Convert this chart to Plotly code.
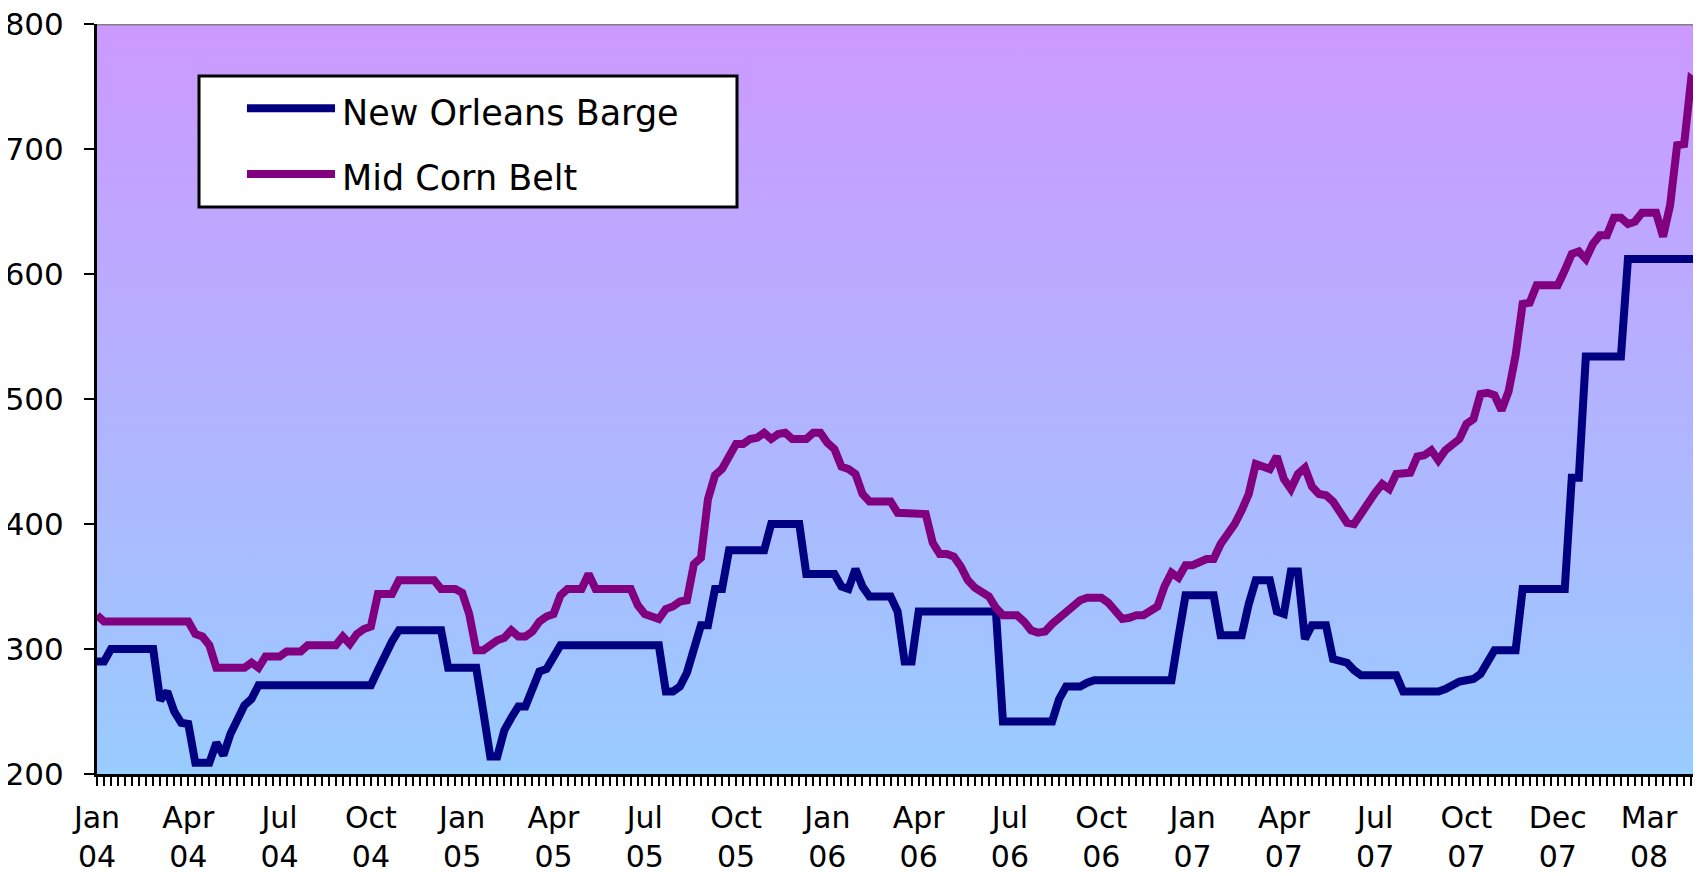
import plotly.graph_objects as go

# weekly prices, one value per week from the first week of Jan 2004
new_orleans_barge = [
    290, 290, 300, 300, 300, 300, 300, 300, 300,
    259, 266, 250, 241, 240, 209, 209, 209, 225, 215, 232, 242, 255, 260, 271,
    271, 271, 271, 271, 271, 271, 271, 271, 271, 271, 271, 271, 271, 271, 271, 271,
    283, 295, 306, 315,
    315, 315, 315, 315, 315, 315,
    285, 285, 285, 285, 285,
    250, 214, 214, 235, 245, 254, 254, 270, 282, 284, 295,
    303, 303, 303, 303, 303, 303, 303, 303, 303, 303, 303, 303, 303, 303, 303,
    266, 266, 270, 281, 300, 319, 319, 348, 348,
    379, 379, 379, 379, 379, 379,
    400, 400, 400, 400, 400,
    360, 360, 360, 360, 360,
    350, 348, 364, 350, 342, 342, 342, 342,
    330, 290, 290, 330,
    330, 330, 330, 330, 330, 330, 330, 330, 330, 330, 330,
    242, 242, 242, 242, 242, 242, 242, 242,
    260, 270, 270, 270, 273,
    275, 275, 275, 275, 275, 275, 275, 275, 275, 275, 275, 275,
    310, 343, 343, 343, 343, 343,
    311, 311, 311, 311,
    336, 355, 355, 355, 330, 328, 362, 362, 308, 319, 319, 319, 292, 291, 289, 283,
    279, 279, 279, 279, 279, 279,
    266, 266, 266, 266, 266, 266,
    268, 271, 274, 275, 276, 280, 290, 299, 299, 299, 299,
    348, 348, 348, 348, 348, 348, 348,
    437, 437,
    534, 534, 534, 534, 534, 534,
    612, 612, 612, 612, 612, 612, 612, 612, 612, 612, 612,
]

mid_corn_belt = [
    327, 322, 322, 322, 322, 322, 322, 322, 322, 322, 322, 322, 322, 322,
    312, 310, 303, 285, 285, 285, 285, 285, 289, 285, 294, 294, 294, 298, 298, 298,
    303, 303, 303, 303, 303, 310, 304, 312, 316, 318,
    344, 344, 344, 355, 355, 355, 355, 355, 355, 348, 348, 348, 345, 328,
    299, 299, 303, 307, 309, 315, 310, 310, 314, 322, 326, 328, 343, 348, 348, 348,
    360, 348, 348, 348, 348, 348, 348, 335, 328, 326, 324, 332, 334, 338, 339,
    368, 373, 420, 439, 444, 455, 464, 464, 468, 469, 473, 468, 472, 473, 468, 468,
    468, 473, 473, 465, 460, 446, 444, 440, 424, 418, 418, 418, 418, 409, 409, 409,
    409, 408, 385, 376, 376, 374, 366, 355, 349, 345, 342, 333, 327, 327,
    327, 322, 315, 313, 314, 320, 325, 329, 334, 339, 341, 341, 341, 337, 330, 324,
    325, 327, 327, 330, 334, 350, 361, 357, 367, 367, 370, 372, 372, 384, 392, 400,
    411, 424, 448, 446, 444, 454, 436, 428, 440, 445, 430, 424, 423, 418, 410, 401,
    400, 409, 415, 425, 432, 428, 440, 440, 441, 454, 455, 459, 451, 459, 463, 468,
    480, 484, 504, 505, 503, 491, 506, 535, 576, 577, 591, 591, 591,
    591, 603, 616, 618, 612, 624, 631, 631, 645, 645, 640, 642, 649, 649, 649, 630,
    655, 703, 704, 756, 752,
]

tick_labels = ["Jan<br>04", "Apr<br>04", "Jul<br>04", "Oct<br>04",
               "Jan<br>05", "Apr<br>05", "Jul<br>05", "Oct<br>05",
               "Jan<br>06", "Apr<br>06", "Jul<br>06", "Oct<br>06",
               "Jan<br>07", "Apr<br>07", "Jul<br>07", "Oct<br>07",
               "Dec<br>07", "Mar<br>08"]

weeks = list(range(len(mid_corn_belt)))
tick_pos = weeks[::13][:len(tick_labels)]

y_min, y_max = 200, 800
x_max = 228.4
font = "DejaVu Sans, Verdana, sans-serif"

fig = go.Figure()

# gradient plot-area background
fig.add_trace(go.Scatter(
    x=[0, x_max, x_max, 0, 0], y=[y_min, y_min, y_max, y_max, y_min],
    mode="lines", line=dict(width=0), fill="toself",
    fillgradient=dict(type="vertical", start=y_min, stop=y_max,
                      colorscale=[[0, "#99CCFF"], [1, "#CC99FF"]]),
    hoverinfo="skip", showlegend=False
))

fig.add_trace(go.Scatter(
    x=weeks, y=new_orleans_barge, mode="lines", name="New Orleans Barge",
    line=dict(color="#000080", width=8), showlegend=False
))
fig.add_trace(go.Scatter(
    x=weeks, y=mid_corn_belt, mode="lines", name="Mid Corn Belt",
    line=dict(color="#800080", width=8), showlegend=False
))

# legend box drawn like the original (long line samples)
shapes = [
    dict(type="line", xref="paper", yref="y", x0=0, x1=1, y0=y_max, y1=y_max,
         line=dict(color="#808080", width=3)),
    dict(type="rect", xref="paper", yref="paper", x0=0.0636, x1=0.399, y0=0.756, y1=0.9306,
         fillcolor="white", line=dict(color="black", width=3)),
    dict(type="line", xref="paper", yref="paper", x0=0.0935, x1=0.1484, y0=0.8878, y1=0.8878,
         line=dict(color="#000080", width=8)),
    dict(type="line", xref="paper", yref="paper", x0=0.0935, x1=0.1484, y0=0.8001, y1=0.8001,
         line=dict(color="#800080", width=8)),
]
annotations = [
    dict(text="New Orleans Barge", xref="paper", yref="paper", x=0.1515, y=0.8812,
         xanchor="left", yanchor="middle", showarrow=False,
         font=dict(family=font, size=35, color="black")),
    dict(text="Mid Corn Belt", xref="paper", yref="paper", x=0.1515, y=0.794,
         xanchor="left", yanchor="middle", showarrow=False,
         font=dict(family=font, size=35, color="black")),
]

# the page body adds 8px around the figure, so the figure is sized to fill the window
fig.update_layout(
    width=1693, height=860,
    margin=dict(l=89, r=0, t=16, b=94),
    paper_bgcolor="white", plot_bgcolor="rgba(0,0,0,0)",
    font=dict(family=font, color="black"),
    shapes=shapes, annotations=annotations,
    xaxis=dict(
        range=[0, x_max], showgrid=False, zeroline=False, automargin=False,
        showline=True, linecolor="black", linewidth=3,
        tickmode="array", tickvals=tick_pos, ticktext=tick_labels,
        ticks="outside", ticklen=9, tickwidth=2, tickcolor="black",
        minor=dict(ticks="outside", tick0=0, dtick=1, ticklen=9, tickwidth=2, tickcolor="black"),
        tickfont=dict(family=font, size=30, color="black"),
        ticklabelstandoff=6, ticklabeloverflow="allow",
    ),
    yaxis=dict(
        range=[y_min, y_max], dtick=100, showgrid=False, zeroline=False, automargin=False,
        showline=True, linecolor="black", linewidth=3,
        ticks="outside", ticklen=10, tickwidth=2, tickcolor="black",
        tickfont=dict(family=font, size=31, color="black"),
        ticklabelstandoff=14, ticklabeloverflow="allow",
    ),
)

fig.write_html("out.html")
